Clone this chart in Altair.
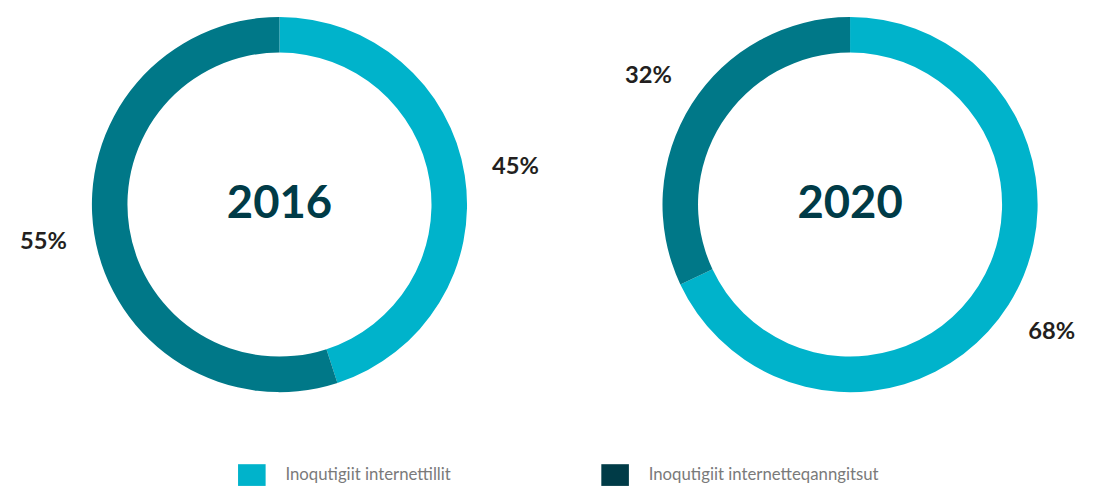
import altair as alt
import pandas as pd

years = ["2016", "2020"]
categories = ["Inoqutigiit internettillit", "Inoqutigiit internetteqanngitsut"]
values_2016 = [45, 55]
values_2020 = [68, 32]
labels_2016 = ["45%", "55%"]
labels_2020 = ["68%", "32%"]

ring_colors = ["#00b3cb", "#007888"]
legend_colors = ["#00b3cb", "#003b47"]

rows = []
for yr, vals, labs in [("2016", values_2016, labels_2016), ("2020", values_2020, labels_2020)]:
    for i, (c, v, l) in enumerate(zip(categories, vals, labs)):
        rows.append({"year": yr, "category": c, "value": v, "label": l, "order": i})
df = pd.DataFrame(rows)
legend_df = pd.DataFrame({"legend_category": categories})

H = 380
FONT = "Lato"


def donut(yr, width):
    sub = df[df["year"] == yr]
    base = alt.Chart(sub).encode(
        theta=alt.Theta("value:Q", stack=True),
        order=alt.Order("order:Q"),
    )
    arcs = base.mark_arc(outerRadius=190, innerRadius=154).encode(
        fill=alt.Fill("category:N", scale=alt.Scale(domain=categories, range=ring_colors), legend=None)
    )
    labels = base.mark_text(radius=242, font=FONT, fontSize=24, fontWeight="bold", color="#231f20").encode(
        text="label:N"
    )
    center = alt.Chart(pd.DataFrame({"year": [yr]})).mark_text(
        font=FONT, fontSize=46, fontWeight="bold", color="#003b47", baseline="middle"
    ).encode(text="year:N")
    return alt.layer(arcs, labels, center).properties(width=width, height=H)


# Legend drawn as its own small row
leg_base = alt.Chart(legend_df).encode(
    x=alt.X(
        "legend_category:N",
        sort=categories,
        scale=alt.Scale(domain=categories, type="point", range=[229, 597], padding=0),
        axis=None,
    )
)
leg_symbols = leg_base.mark_point(
    shape="M-1.27,-1H1.27V1H-1.27Z", size=484, filled=True, opacity=1, strokeWidth=0
).encode(
    color=alt.Color("legend_category:N", scale=alt.Scale(domain=categories, range=legend_colors), legend=None)
)
leg_text = leg_base.mark_text(
    align="left", baseline="middle", dx=34, font=FONT, fontSize=17, color="#7a7a7a"
).encode(text="legend_category:N")
legend_row = alt.layer(leg_symbols, leg_text).properties(width=1000, height=22)

top_row = alt.hconcat(donut("2016", 514), donut("2020", 476), spacing=83, bounds="flush")

chart = alt.vconcat(top_row, legend_row, spacing=73).resolve_scale(
    color="independent", fill="independent"
).properties(
    padding={"left": 12, "top": 6, "right": 0, "bottom": 0},
).configure(background="white").configure_view(stroke=None)

chart.save("out.html", embed_options={"renderer": "svg", "actions": False})
